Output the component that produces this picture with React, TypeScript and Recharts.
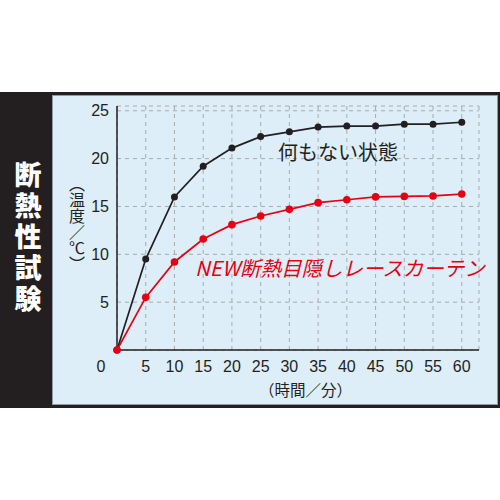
import { LineChart, Line, XAxis, YAxis, CartesianGrid } from "recharts";

const minutes = [0, 5, 10, 15, 20, 25, 30, 35, 40, 45, 50, 55, 60];
const plainTemp = [0, 9.5, 16.0, 19.2, 21.1, 22.3, 22.8, 23.3, 23.4, 23.4, 23.6, 23.6, 23.8];
const curtainTemp = [0, 5.5, 9.2, 11.6, 13.1, 14.0, 14.7, 15.4, 15.7, 16.0, 16.05, 16.1, 16.3];
const xTicks = [0, 5, 10, 15, 20, 25, 30, 35, 40, 45, 50, 55, 60];
const yTicks = [5, 10, 15, 20, 25];

const title = "断熱性試験";
const plainName = "何もない状態";
const curtainName = "NEW断熱目隠しレースカーテン";
const yLabel = "（温度／℃）";
const xLabel = "（時間／分）";

const data = minutes.map((m, i) => ({ m, plain: plainTemp[i], curtain: curtainTemp[i] }));

const INK = "#231f20";
const RED = "#e60012";
const JP = '"Noto Sans CJK JP", sans-serif';
const NUM = '"Liberation Sans", Arial, sans-serif';

// stack characters top to bottom in one text block
const stack = (s: string) => Array.from(s).join("\n");

function XTick(props: any) {
  const { x, y, payload } = props;
  const dx = payload.value === 0 ? -16 : 0;
  return (
    <text x={x + dx} y={y} dy="0.71em" textAnchor="middle" fill={INK} fontSize={16} fontFamily={NUM}>
      {payload.value}
    </text>
  );
}

export default function App() {
  return (
    <div style={{ position: "absolute", left: 0, top: 0, width: 500, height: 500, background: "#fff", overflow: "hidden" }}>
      <div style={{ position: "absolute", left: 0, top: 92, width: 500, height: 316, background: INK }} />
      <div
        style={{
          position: "absolute",
          left: 52,
          top: 95,
          width: 444,
          height: 308,
          background: "#ddeef9",
          border: "1px solid #8d9ba5",
        }}
      />
      <div
        style={{
          position: "absolute",
          left: 12,
          top: 158,
          width: 32,
          color: "#fff",
          fontFamily: JP,
          fontWeight: 900,
          fontSize: 27,
          lineHeight: "31px",
          textAlign: "center",
          whiteSpace: "pre-line",
        }}
      >
        {stack(title)}
      </div>
      <div style={{ position: "absolute", left: 0, top: 0 }}>
        <LineChart width={500} height={500} data={data} margin={{ top: 106, right: 21, bottom: 120, left: 87 }}>
          <CartesianGrid stroke="#aaaaaa" strokeDasharray="4 4" strokeWidth={1} />
          <XAxis
            dataKey="m"
            type="number"
            domain={[0, 63]}
            ticks={xTicks}
            tick={<XTick />}
            tickLine={false}
            tickMargin={5}
            axisLine={{ stroke: INK, strokeWidth: 1.5 }}
            height={30}
          />
          <YAxis
            type="number"
            domain={[0, 25.5]}
            ticks={yTicks}
            width={30}
            tickLine={false}
            tick={{ fill: INK, fontSize: 16, fontFamily: NUM }}
            axisLine={{ stroke: INK, strokeWidth: 1.5 }}
          />
          <Line
            dataKey="plain"
            stroke={INK}
            strokeWidth={1.7}
            dot={{ r: 3.5, fill: INK, stroke: INK, strokeWidth: 0 }}
            isAnimationActive={false}
          />
          <Line
            dataKey="curtain"
            stroke={RED}
            strokeWidth={1.7}
            dot={{ r: 3.8, fill: RED, stroke: RED, strokeWidth: 0 }}
            isAnimationActive={false}
          />
        </LineChart>
      </div>
      <div
        style={{
          position: "absolute",
          left: 67,
          top: 176,
          writingMode: "vertical-rl",
          fontFamily: JP,
          fontSize: 16,
          color: INK,
          lineHeight: "20px",
        }}
      >
        {yLabel}
      </div>
      <div style={{ position: "absolute", left: 259, top: 379, fontFamily: JP, fontSize: 15.5, color: INK, lineHeight: "20px" }}>
        {xLabel}
      </div>
      <div style={{ position: "absolute", left: 278, top: 139, fontFamily: JP, fontSize: 20, color: INK, lineHeight: "26px", whiteSpace: "nowrap" }}>
        {plainName}
      </div>
      <div
        style={{
          position: "absolute",
          left: 195,
          top: 254,
          fontFamily: JP,
          fontSize: 20.5,
          fontStyle: "italic",
          color: RED,
          lineHeight: "26px",
          whiteSpace: "nowrap",
        }}
      >
        {curtainName}
      </div>
    </div>
  );
}
